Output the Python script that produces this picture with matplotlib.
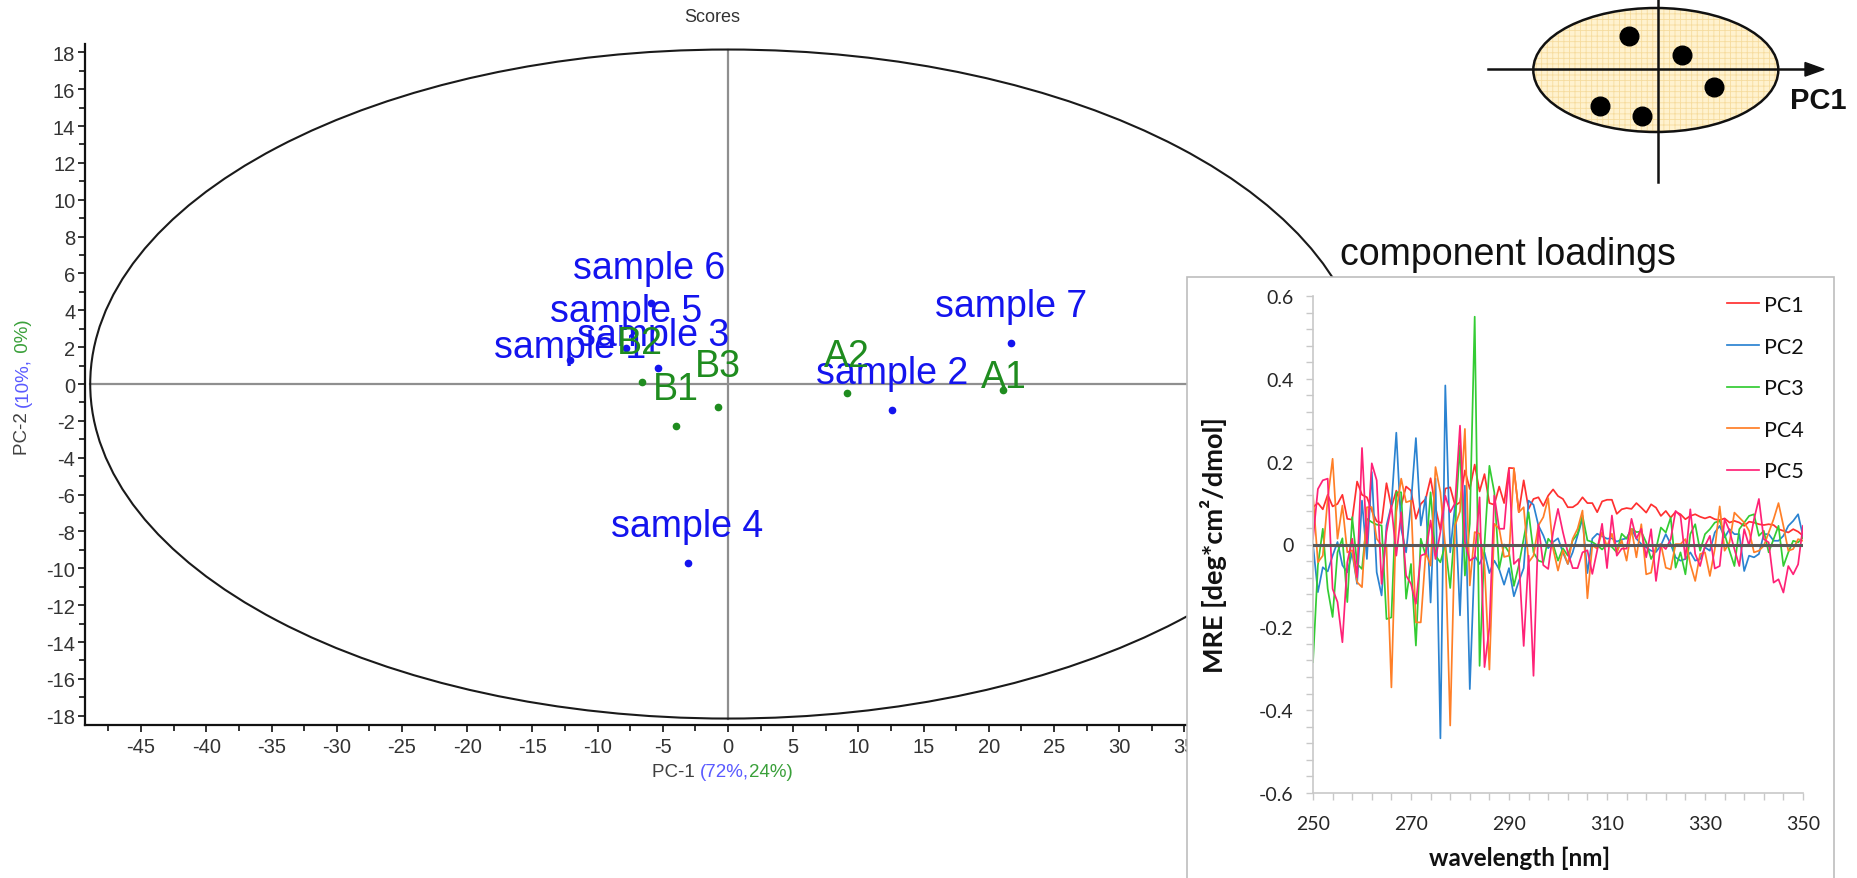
import numpy as np
import matplotlib
matplotlib.use('Agg')
import matplotlib.pyplot as plt
from matplotlib.patches import Ellipse, Rectangle, Polygon
from matplotlib import font_manager as fm
from matplotlib.ticker import MultipleLocator, FuncFormatter, FixedLocator

# ---------------- data ----------------
# PCA scores
sample_names = ["sample 1", "sample 2", "sample 3", "sample 4", "sample 5", "sample 6", "sample 7"]
sample_pc1 = [-12.1, 12.6, -5.4, -3.1, -7.8, -5.9, 21.7]
sample_pc2 = [1.3, -1.4, 0.85, -9.7, 1.95, 4.4, 2.2]
ref_names = ["A1", "A2", "B1", "B2", "B3"]
ref_pc1 = [21.1, 9.1, -4.0, -6.6, -0.8]
ref_pc2 = [-0.35, -0.5, -2.25, 0.1, -1.25]
ellipse_a, ellipse_b = 48.9, 18.15

# component loadings (250..350 nm, 1 nm steps)
wl_start, wl_end = 250, 350
pc1 = [0.09, 0.10, 0.085, 0.12, 0.092, 0.098, 0.12, 0.062, 0.06, 0.152,
       0.12, 0.114, 0.082, 0.056, 0.052, 0.148, 0.09, 0.13, 0.094, 0.14,
       0.13, 0.062, 0.098, 0.11, 0.16, 0.09, 0.035, 0.135, 0.138, 0.094,
       0.102, 0.179, 0.134, 0.193, 0.128, 0.17, 0.10, 0.096, 0.14, 0.10,
       0.185, 0.184, 0.078, 0.155, 0.086, 0.11, 0.114, 0.093, 0.118, 0.133,
       0.117, 0.11, 0.09, 0.09, 0.098, 0.114, 0.10, 0.10, 0.078, 0.104,
       0.108, 0.108, 0.074, 0.085, 0.088, 0.086, 0.10, 0.089, 0.077, 0.097,
       0.089, 0.069, 0.081, 0.065, 0.079, 0.073, 0.061, 0.069, 0.073, 0.067,
       0.063, 0.067, 0.061, 0.059, 0.063, 0.053, 0.057, 0.053, 0.045, 0.055,
       0.053, 0.049, 0.047, 0.049, 0.047, 0.037, 0.033, 0.029, 0.037, 0.031,
       0.021]
pc2 = [0.0, -0.115, -0.055, -0.065, -0.027, 0.006, -0.05, -0.067, -0.02, -0.095,
       0.106, -0.035, 0.175, -0.067, -0.123, 0.046, 0.094, 0.27, 0.038, -0.019,
       0.1, 0.257, 0.046, 0.115, -0.14, 0.159, -0.468, 0.384, -0.019, 0.098,
       -0.171, 0.142, -0.349, -0.027, -0.047, -0.019, -0.069, -0.039, -0.06, -0.097,
       -0.057, -0.125, -0.089, -0.057, 0.106, 0.096, 0.046, 0.022, -0.009, 0.006,
       0.015, -0.019, -0.047, -0.019, 0.022, 0.062, -0.069, 0.014, 0.026, 0.02,
       0.014, 0.015, 0.007, 0.012, 0.015, 0.038, 0.014, 0.001, -0.007, -0.015,
       -0.018, -0.002, 0.025, 0.001, -0.031, -0.039, -0.035, -0.019, -0.039, -0.035,
       -0.007, -0.015, 0.029, 0.045, 0.017, 0.037, 0.025, 0.025, -0.064, -0.027,
       -0.031, -0.023, 0.025, 0.025, 0.009, 0.009, 0.021, 0.045, 0.057, 0.073,
       0.02]
pc3 = [-0.284, -0.05, 0.038, -0.107, -0.175, -0.019, 0.015, -0.139, 0.066, -0.047,
       -0.059, 0.062, 0.054, 0.048, 0.046, -0.18, -0.176, 0.126, 0.126, -0.131,
       -0.047, -0.244, 0.014, -0.027, 0.126, -0.027, -0.043, 0.0, -0.105, 0.05,
       0.24, -0.075, 0.05, 0.55, -0.293, 0.0, 0.19, 0.126, -0.059, 0.0,
       -0.019, -0.1, -0.05, 0.014, 0.078, -0.019, -0.039, -0.043, 0.014, 0.0,
       -0.039, -0.009, -0.027, 0.01, 0.026, 0.07, 0.01, 0.006, -0.002, -0.012,
       0.0, -0.006, -0.019, 0.026, 0.014, 0.038, 0.03, 0.031, 0.005, -0.035,
       -0.011, 0.041, 0.029, 0.065, -0.056, -0.019, -0.072, 0.025, 0.049, -0.015,
       0.025, 0.037, 0.053, 0.057, 0.025, -0.015, -0.052, 0.037, 0.053, 0.069,
       0.073, 0.021, 0.033, -0.019, 0.013, 0.045, -0.052, -0.019, 0.009, 0.005,
       0.017]
pc4 = [0.118, -0.043, -0.027, 0.11, 0.207, 0.014, 0.094, -0.019, -0.014, -0.091,
       -0.103, 0.09, 0.09, 0.014, -0.002, -0.006, -0.345, 0.078, 0.159, 0.102,
       0.106, -0.188, -0.188, -0.019, -0.051, 0.187, 0.126, -0.006, -0.437, 0.046,
       0.08, 0.279, -0.099, 0.03, 0.026, -0.05, -0.302, 0.05, 0.038, -0.03,
       -0.027, 0.184, 0.078, 0.09, -0.043, -0.027, 0.046, 0.066, 0.112, -0.01,
       -0.063, -0.014, -0.047, 0.014, 0.038, 0.082, -0.13, -0.002, -0.01, 0.03,
       -0.005, 0.026, -0.019, 0.01, -0.039, 0.038, -0.031, 0.049, -0.072, -0.068,
       -0.003, 0.001, -0.056, -0.06, 0.001, 0.001, 0.013, -0.047, -0.088, -0.023,
       -0.019, -0.076, -0.011, 0.092, -0.015, 0.005, 0.077, 0.065, 0.053, 0.033,
       -0.019, -0.015, -0.003, 0.029, 0.061, 0.1, 0.045, -0.015, -0.011, 0.013,
       0.009]
pc5 = [0.014, 0.134, 0.155, 0.159, -0.107, -0.139, -0.236, -0.043, 0.014, -0.079,
       0.233, 0.002, 0.196, 0.155, -0.095, 0.03, 0.094, -0.027, 0.078, -0.075,
       -0.095, -0.143, -0.027, -0.022, 0.058, -0.035, 0.03, 0.118, 0.078, 0.1,
       0.287, 0.006, -0.039, -0.031, 0.114, -0.296, -0.2, 0.118, 0.038, 0.038,
       0.18, -0.047, -0.035, -0.245, -0.027, -0.317, 0.048, -0.05, -0.059, 0.03,
       0.086, 0.03, -0.019, -0.057, -0.057, -0.019, -0.014, -0.071, -0.014, 0.05,
       -0.057, 0.07, -0.027, -0.01, -0.01, 0.062, 0.014, 0.038, -0.031, 0.037,
       -0.088, 0.0, -0.011, 0.013, 0.081, 0.069, -0.035, 0.085, -0.023, -0.052,
       -0.003, 0.021, -0.058, -0.052, 0.061, 0.033, -0.011, -0.052, 0.037, -0.003,
       0.061, 0.11, 0.013, 0.005, -0.092, -0.084, -0.116, -0.052, -0.072, -0.048,
       0.045]
loading_labels = ["PC1", "PC2", "PC3", "PC4", "PC5"]
wl_ticks = [250, 270, 290, 310, 330, 350]

# schematic diagram points (pixel space of the small sketch)
sketch_x = [1629, 1682, 1714, 1600, 1642]
sketch_y = [37, 56, 88, 107, 117]

# ---------------- style ----------------
W, H, DPI = 1858, 879, 100


def has_font(name):
    try:
        fm.findfont(fm.FontProperties(family=name), fallback_to_default=False)
        return True
    except Exception:
        return False


NARROW = 'Liberation Sans Narrow' if has_font('Liberation Sans Narrow') else 'Liberation Sans'
NARROW_SIZE = 16 if NARROW == 'Liberation Sans Narrow' else 14.5
ARIAL = 'Liberation Sans'
EXCEL = 'Lato'

BLUE = '#1414ee'
GREEN = '#1f8c1f'
loading_colors = ['#ff3030', '#2b83d1', '#33cc33', '#ff7f27', '#ff2277']

plt.rcParams['hatch.linewidth'] = 0.6


def fx(px):
    return px / W


def fy(py):
    return 1 - py / H


fig = plt.figure(figsize=(W / DPI, H / DPI), dpi=DPI)
fig.patch.set_facecolor('white')

# ---------------- scores plot ----------------
ax = fig.add_axes([fx(85), fy(726), (1371 - 85) / W, (726 - 45) / H], zorder=0)
ax.set_xlim(-49.3, 49.3)
ax.set_ylim(-18.5, 18.45)
for s in ['top', 'right']:
    ax.spines[s].set_visible(False)
for s in ['left', 'bottom']:
    ax.spines[s].set_linewidth(1.6)
    ax.spines[s].set_color('#111111')

ax.xaxis.set_major_locator(MultipleLocator(5))
ax.xaxis.set_minor_locator(MultipleLocator(2.5))
ax.yaxis.set_major_locator(MultipleLocator(2))
ax.yaxis.set_minor_locator(MultipleLocator(1))
intfmt = FuncFormatter(lambda v, p: '%d' % int(round(v)))
ax.xaxis.set_major_formatter(intfmt)
ax.yaxis.set_major_formatter(intfmt)
ax.tick_params(which='major', length=5, width=1.2, color='#111111')
ax.tick_params(which='minor', length=4, width=1.2, color='#111111')
ax.tick_params(axis='x', which='major', pad=4)
ax.tick_params(axis='y', which='major', pad=2)
for lab in ax.get_xticklabels() + ax.get_yticklabels():
    lab.set_fontfamily(NARROW)
    lab.set_fontsize(NARROW_SIZE)
    lab.set_color('#333333')

ax.add_patch(Ellipse((0, 0), 2 * ellipse_a, 2 * ellipse_b, fill=False,
                     ec='#1a1a1a', lw=1.5, zorder=2))
ax.plot([-ellipse_a, ellipse_a], [0, 0], color='#8f8f8f', lw=1.6, zorder=1)
ax.plot([0, 0], [-ellipse_b, ellipse_b], color='#8f8f8f', lw=1.6, zorder=1)

ax.plot(sample_pc1, sample_pc2, 'o', color=BLUE, ms=4.5, zorder=3)
ax.plot(ref_pc1, ref_pc2, 'o', color=GREEN, ms=4.5, zorder=3)

label_offsets = {"sample 1": (0, 13), "sample 3": (-4, 33), "sample 6": (-2, 35),
                 "A1": (1, 13), "B2": (-2, 39), "B3": (0, 41)}
for names, xs, ys, col in [(sample_names, sample_pc1, sample_pc2, BLUE),
                           (ref_names, ref_pc1, ref_pc2, GREEN)]:
    for n, x, y in zip(names, xs, ys):
        off = label_offsets.get(n, (0, 37))
        ax.annotate(n, (x, y), xytext=off, textcoords='offset pixels',
                    ha='center', va='center', fontsize=27, color=col,
                    family=ARIAL, zorder=4)

fig.text(fx(712), fy(18), 'Scores', ha='center', va='center',
         fontsize=13, color='#333333', family=NARROW)

# multicolour axis labels
lab_kw = dict(fontsize=13.5, family=NARROW)
t1 = fig.text(fx(652), fy(781), 'PC-1 ', ha='left', va='bottom', color='#404040', **lab_kw)
t2 = ax.annotate('(72%,', xy=(1, 0), xycoords=t1, ha='left', va='bottom',
                 color='#5a5aff', annotation_clip=False, **lab_kw)
t3 = ax.annotate('24%)', xy=(1, 0), xycoords=t2, ha='left', va='bottom',
                 color='#3aa03a', annotation_clip=False, **lab_kw)

u1 = fig.text(fx(23), fy(455), 'PC-2 ', rotation=90, ha='center', va='bottom',
              color='#404040', **lab_kw)
u2 = ax.annotate('(10%,', xy=(0.5, 1), xycoords=u1, rotation=90, ha='center',
                 va='bottom', color='#5a5aff', annotation_clip=False, **lab_kw)
u3 = ax.annotate(' 0%)', xy=(0.5, 1), xycoords=u2, rotation=90, ha='center',
                 va='bottom', color='#3aa03a', annotation_clip=False, **lab_kw)

# ---------------- overlay (box + sketch) ----------------
over = fig.add_axes([0, 0, 1, 1], zorder=1)
over.set_xlim(0, W)
over.set_ylim(H, 0)
over.axis('off')
over.patch.set_alpha(0)

over.add_patch(Rectangle((1187, 278), 1834 - 1187, 700, facecolor='white',
                         edgecolor='#bdbdbd', lw=1.2))
over.text(1508, 255, 'component loadings', ha='center', va='center',
          fontsize=27, family=ARIAL, color='#111111')

# sketch of PCA idea
over.add_patch(Ellipse((1655.8, 71), 245, 124, facecolor='#fff2cf',
                       edgecolor='#f6dc9e', hatch='+++', lw=0))
over.add_patch(Ellipse((1655.8, 71), 245, 124, fill=False,
                       edgecolor='#111111', lw=1.8))
over.plot([1488, 1808], [70.3, 70.3], color='#111111', lw=1.8)
over.add_patch(Polygon([[1805, 63.5], [1824, 70.3], [1805, 77.1]], closed=True,
                       facecolor='#111111', edgecolor='#111111', lw=1))
over.plot([1657.7, 1657.7], [0, 183], color='#111111', lw=1.8)
over.scatter(sketch_x, sketch_y, s=180, color='black', zorder=5)
over.text(1818, 101, 'PC1', ha='center', va='center', fontsize=21,
          fontweight='bold', family=ARIAL, color='#111111')

# ---------------- loadings inset ----------------
wl = np.arange(wl_start, wl_end + 1)
for arr in (pc1, pc2, pc3, pc4, pc5):
    assert len(arr) == len(wl), len(arr)

ins = fig.add_axes([fx(1313), fy(794), 490 / W, 497 / H], zorder=2)
ins.patch.set_alpha(0)
for vals, col, lab in zip([pc1, pc2, pc3, pc4, pc5], loading_colors, loading_labels):
    ins.plot(wl, vals, color=col, lw=1.25, label=lab)
ins.axhline(0, color='#595959', lw=2.2, zorder=5)
ins.set_xlim(wl_start, wl_end)
ins.set_ylim(-0.6, 0.6)
ins.xaxis.set_major_locator(FixedLocator(wl_ticks))
ins.xaxis.set_minor_locator(FixedLocator(np.arange(wl_start, wl_end + 1, 4)))
ins.yaxis.set_major_locator(MultipleLocator(0.2))
ins.yaxis.set_minor_locator(MultipleLocator(0.04))
ins.yaxis.set_major_formatter(FuncFormatter(lambda v, p: '0' if abs(v) < 1e-9 else '%.1f' % v))
ins.xaxis.set_major_formatter(intfmt)
for s in ['top', 'right']:
    ins.spines[s].set_visible(False)
for s in ['left', 'bottom']:
    ins.spines[s].set_color('#c8c8c8')
    ins.spines[s].set_linewidth(1.2)
ins.tick_params(which='both', length=5, width=1, color='#c8c8c8',
                labelsize=14, labelcolor='#262626')
ins.tick_params(axis='x', which='major', pad=11)
ins.tick_params(axis='y', which='major', pad=9)
for lab in ins.get_xticklabels() + ins.get_yticklabels():
    lab.set_fontfamily(EXCEL)

ins.set_xlabel('wavelength [nm]', fontsize=17.5, fontweight='bold', family=EXCEL,
               color='#111111')
ins.xaxis.set_label_coords((1520 - 1313) / 490, (794 - 847) / 497)
ins.set_ylabel('MRE [deg*cm²/dmol]', fontsize=19.5, fontweight='bold',
               family=EXCEL, color='#111111')
ins.yaxis.set_label_coords((1227 - 1313) / 490, (794 - 545) / 497)

leg = ins.legend(loc='upper left', bbox_to_anchor=(fx(1727), fy(296)),
                 bbox_transform=fig.transFigure, frameon=False,
                 prop=fm.FontProperties(family=EXCEL, size=15.5),
                 handlelength=1.5, handletextpad=0.2, labelspacing=1.0,
                 borderpad=0, borderaxespad=0)
for t in leg.get_texts():
    t.set_color('#111111')

fig.savefig('out.png', dpi=DPI, facecolor='white')
